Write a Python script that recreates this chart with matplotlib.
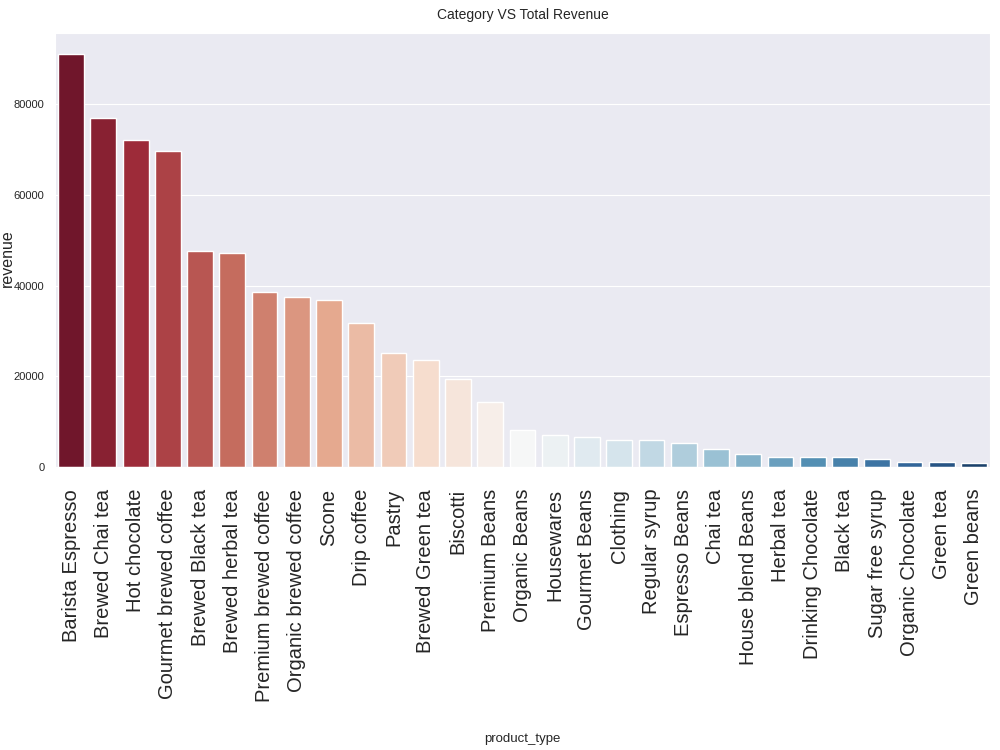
import matplotlib
matplotlib.use("Agg")
import matplotlib.pyplot as plt
import seaborn as sns
import numpy as np

product_types = ["Barista Espresso", "Brewed Chai tea", "Hot chocolate", "Gourmet brewed coffee",
                 "Brewed Black tea", "Brewed herbal tea", "Premium brewed coffee", "Organic brewed coffee",
                 "Scone", "Drip coffee", "Pastry", "Brewed Green tea", "Biscotti", "Premium Beans",
                 "Organic Beans", "Housewares", "Gourmet Beans", "Clothing", "Regular syrup",
                 "Espresso Beans", "Chai tea", "House blend Beans", "Herbal tea", "Drinking Chocolate",
                 "Black tea", "Sugar free syrup", "Organic Chocolate", "Green tea", "Green beans"]
revenue = [91040, 76880, 72080, 69650, 47680, 47230, 38540, 37430, 36840, 31750, 25260, 23560,
           19510, 14340, 8230, 7190, 6750, 6010, 5930, 5350, 4020, 2920, 2250, 2250, 2320, 1810,
           1220, 1220, 850]

sns.set_style("darkgrid")
plt.rcParams['font.family'] = ['Liberation Sans', 'DejaVu Sans']

fig = plt.figure(figsize=(10, 7.5), dpi=100)
ax = fig.add_axes([0.055, 0.377, 0.935, 0.579])
palette = sns.color_palette("RdBu", len(product_types))
colors = [sns.desaturate(c, 0.75) for c in palette]
ax.bar(np.arange(len(product_types)), revenue, width=0.8, color=colors,
       edgecolor="white", linewidth=1, zorder=2)
ax.grid(axis='x', visible=False)
ax.set_xlim(-0.5, len(product_types) - 0.5)
ax.set_xticks(np.arange(len(product_types)))
ax.set_xticklabels(product_types, rotation=90, fontsize=14.5)
ax.tick_params(axis='x', pad=12)
ax.set_yticks([0, 20000, 40000, 60000, 80000])
ax.tick_params(axis='y', labelsize=8, pad=4)
ax.set_title("Category VS Total Revenue", fontsize=10, pad=10)
fig.text(0.007, 1 - 258 / 750, "revenue", rotation=90, ha="center", va="center", fontsize=11.5)
fig.text(0.522, 1 - 739 / 750, "product_type", ha="center", va="center", fontsize=9.5)
fig.savefig("out.png")
